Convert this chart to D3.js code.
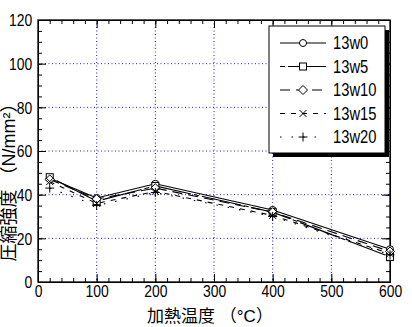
<!DOCTYPE html>
<html><head><meta charset="utf-8">
<script src="https://cdn.jsdelivr.net/npm/d3@7"></script>
<style>body{margin:0;background:#fff}svg{display:block}text{font-family:"Liberation Sans","Noto Sans CJK JP",sans-serif}</style>
</head><body><svg id="c" width="412" height="327"></svg>
<script>
const temps = [20, 100, 200, 400, 600];
const seriesNames = ["13w0", "13w5", "13w10", "13w15", "13w20"];
const s13w0 = [47.5, 38.5, 45, 33, 15];
const s13w5 = [48, 37, 44, 32, 11.5];
const s13w10 = [47, 38, 43, 32, 14];
const s13w15 = [46, 36, 41.5, 30.5, 13];
const s13w20 = [43, 35, 41, 30, 12.5];
const xTicks = [0, 100, 200, 300, 400, 500, 600];
const yTicks = [0, 20, 40, 60, 80, 100, 120];
const xTitle = "加熱温度 （°C）";
const yTitle = "圧縮強度 （N/mm²）";

const seriesVals = [s13w0, s13w5, s13w10, s13w15, s13w20];
const dashes = [null, "5,3,40,3", "10,6", "5,6", "1.5,10"];
const shapes = ["circle", "square", "diamond", "x", "plus"];

const svg = d3.select("#c");
const L = 38, R = 390, T = 20, B = 282;
const x = d3.scaleLinear().domain([0, 600]).range([L, R]);
const y = d3.scaleLinear().domain([0, 120]).range([B, T]);

// grid
const g = svg.append("g");
g.selectAll(".gx").data(xTicks.filter(d => d > 0 && d < 600)).enter().append("line")
  .attr("x1", d => x(d)).attr("x2", d => x(d)).attr("y1", T).attr("y2", B)
  .attr("stroke", "#2222dd").attr("stroke-width", 1).attr("stroke-dasharray", "1,2.5");
g.selectAll(".gy").data(yTicks.filter(d => d > 0 && d < 120)).enter().append("line")
  .attr("y1", d => y(d)).attr("y2", d => y(d)).attr("x1", L).attr("x2", R)
  .attr("stroke", "#2222dd").attr("stroke-width", 1).attr("stroke-dasharray", "1,2.5");

// axes with inside ticks on all sides
const fmt = d3.format("d");
function ax(gen, tr, values, size, labels) {
  const a = svg.append("g").attr("transform", tr).call(gen.tickValues(values).tickSize(size).tickSizeOuter(0).tickFormat(labels ? fmt : ""));
  a.select(".domain").attr("stroke", "#000");
  a.selectAll("line").attr("stroke", "#000");
  a.selectAll("text").attr("font-size", 17).attr("fill", "#000").attr("transform", "scale(0.82,1)");
  return a;
}
const xMinor = d3.range(0, 601, 20), yMinor = d3.range(0, 121, 5);
ax(d3.axisBottom(x), `translate(0,${B})`, xMinor, -4, false);
ax(d3.axisBottom(x), `translate(0,${B})`, xTicks, -8, true);
ax(d3.axisTop(x), `translate(0,${T})`, xMinor, -4, false);
ax(d3.axisTop(x), `translate(0,${T})`, xTicks, -8, false);
ax(d3.axisLeft(y), `translate(${L},0)`, yMinor, -4, false);
ax(d3.axisLeft(y), `translate(${L},0)`, yTicks, -8, true).selectAll("text").attr("x", -7).attr("dy", "0.35em");
ax(d3.axisRight(y), `translate(${R},0)`, yMinor, -4, false);
ax(d3.axisRight(y), `translate(${R},0)`, yTicks, -8, false);
svg.append("rect").attr("x", L).attr("y", T).attr("width", R - L).attr("height", B - T)
  .attr("fill", "none").attr("stroke", "#000").attr("stroke-width", 1.3);

function marker(sel, shape, cx, cy) {
  const s = 3.5;
  if (shape === "circle") sel.append("circle").attr("cx", cx).attr("cy", cy).attr("r", s).attr("fill", "#fff").attr("stroke", "#000");
  else if (shape === "square") sel.append("rect").attr("x", cx - s).attr("y", cy - s).attr("width", 2 * s).attr("height", 2 * s).attr("fill", "#fff").attr("stroke", "#000");
  else if (shape === "diamond") sel.append("path").attr("d", `M${cx},${cy - s - 1}L${cx + s + 1},${cy}L${cx},${cy + s + 1}L${cx - s - 1},${cy}Z`).attr("fill", "#fff").attr("stroke", "#000");
  else if (shape === "x") sel.append("path").attr("d", `M${cx - s},${cy - s}L${cx + s},${cy + s}M${cx - s},${cy + s}L${cx + s},${cy - s}`).attr("stroke", "#000").attr("fill", "none");
  else sel.append("path").attr("d", `M${cx - s - 1},${cy}L${cx + s + 1},${cy}M${cx},${cy - s - 1}L${cx},${cy + s + 1}`).attr("stroke", "#000").attr("fill", "none");
}

const line = d3.line().x((d, i) => x(temps[i])).y(d => y(d));
const plot = svg.append("g");
seriesVals.forEach((vals, k) => {
  plot.append("path").attr("d", line(vals)).attr("fill", "none").attr("stroke", "#000")
    .attr("stroke-width", 1.1).attr("stroke-dasharray", dashes[k]);
});
seriesVals.forEach((vals, k) => {
  vals.forEach((v, i) => marker(plot, shapes[k], x(temps[i]), y(v)));
});

// legend
const lx = 269, ly = 26, lw = 116, lh = 127;
svg.append("rect").attr("x", lx + 4).attr("y", ly + 4).attr("width", lw).attr("height", lh).attr("fill", "#000");
svg.append("rect").attr("x", lx).attr("y", ly).attr("width", lw).attr("height", lh).attr("fill", "#fff").attr("stroke", "#000").attr("stroke-width", 1);
seriesNames.forEach((n, k) => {
  const yy = ly + 17 + k * 23.5;
  svg.append("line").attr("x1", lx + 11).attr("x2", lx + 57).attr("y1", yy).attr("y2", yy)
    .attr("stroke", "#000").attr("stroke-width", 1.1).attr("stroke-dasharray", dashes[k]);
  marker(svg, shapes[k], lx + 34, yy);
  svg.append("text").attr("transform", `translate(${lx + 64},${yy}) scale(0.82,1)`).attr("dy", "0.36em").attr("font-size", 18).text(n);
});

// titles
svg.append("text").attr("x", (L + R) / 2 - 4).attr("y", 322).attr("text-anchor", "middle").attr("font-size", 17)
  .attr("font-family", "Noto Sans CJK JP").text(xTitle);
svg.append("text").attr("transform", `translate(15,178) rotate(-90)`).attr("text-anchor", "middle").attr("font-size", 18)
  .attr("font-family", "Noto Sans CJK JP").text(yTitle);
</script></body></html>
